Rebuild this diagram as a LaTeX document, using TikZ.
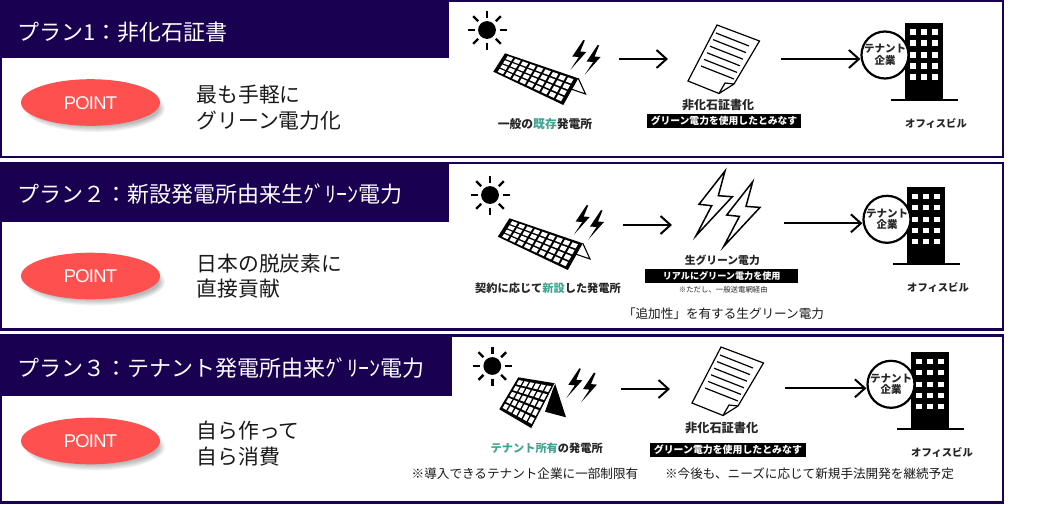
\documentclass[tikz,border=0pt]{standalone}
\usepackage{fontspec}
\setmainfont{Noto Sans CJK JP}
\newfontfamily\pointfont{Liberation Sans}
\usetikzlibrary{arrows.meta,calc,shapes.geometric}
\definecolor{navy}{HTML}{190050}
\definecolor{pointred}{HTML}{FF5050}
\definecolor{teal}{HTML}{3FA58F}
\newcommand{\fs}[1]{\fontsize{#1}{#1}\selectfont}
\newcommand{\grn}[1]{\textcolor{teal}{#1}}
\tikzset{
  frameBox/.style={draw=navy,line width=2.2pt,fill=white},
  headBox/.style={fill=navy},
  titleText/.style={anchor=west,inner sep=0pt,text=white,font=\fs{22}},
  pointOval/.style={ellipse,fill=pointred},
  bodyText/.style={anchor=west,inner sep=0pt,text=black!90,font=\fs{20.8}},
  iconLabel/.style={inner sep=0pt,text=black!85,font=\bfseries\fs{11.2}},
  barText/.style={inner sep=0pt,text=white,fill=black,font=\bfseries},
  noteText/.style={inner sep=0pt,text=black!90,font=\fs{12.6}},
  flowArrow/.style={line width=2pt,-{Straight Barb[length=10pt,width=18pt,line width=2pt]}},
  tenantCircle/.style={circle,draw=black,line width=2.2pt,fill=white,minimum size=47pt,inner sep=0pt,align=center,font=\bfseries\fs{10.5},text=black!85},
  sunRay/.style={line width=2.4pt},
}
\newcommand{\sunicon}[2]{%
  \begin{scope}[shift={(#1,#2)}]
    \fill[black] (0,0) circle[radius=8.9];
    \foreach \a in {0,45,...,315}{\draw[sunRay] (\a:12.5) -- (\a:19.5);}
  \end{scope}}
\newcommand{\boltblack}[2]{%
  \fill[black,shift={(#1,#2)}] (0,0) -- (-11,16.5) -- (-4.5,17) -- (-12.7,29.5) -- (3,12) -- (-3,11.5) -- (1.5,0.5) -- cycle;}
\newcommand{\boltoutline}[2]{%
  \draw[line width=1.5pt,fill=white,line join=miter,shift={(#1,#2)}] (0,0) -- (-26,33.3) -- (-13.3,34.7) -- (-29,64.7) -- (7.3,25.7) -- (-6.7,24.7) -- cycle;}
\newcommand{\solarcells}[6]{%
  \foreach \i in {1,...,#5}{\foreach \j in {1,...,#6}{%
    \pgfmathsetmacro\ua{.035+.93*(\i-1+.14)/#5}%
    \pgfmathsetmacro\ub{.035+.93*(\i-.14)/#5}%
    \pgfmathsetmacro\va{.05+.9*(\j-1+.14)/#6}%
    \pgfmathsetmacro\vb{.05+.9*(\j-.14)/#6}%
    \fill[white] ($($(#1)!\ua!(#2)$)!\va!($(#4)!\ua!(#3)$)$) -- ($($(#1)!\ub!(#2)$)!\va!($(#4)!\ub!(#3)$)$) -- ($($(#1)!\ub!(#2)$)!\vb!($(#4)!\ub!(#3)$)$) -- ($($(#1)!\ua!(#2)$)!\vb!($(#4)!\ua!(#3)$)$) -- cycle;
  }}}
\newcommand{\widepanel}[2]{%
  \begin{scope}[shift={(#1,#2)}]
    \coordinate (pA) at (505,53.3);
    \coordinate (pB) at (578.3,78.3);
    \coordinate (pC) at (563.3,105);
    \coordinate (pD) at (493.3,71.7);
    \draw[line width=1.1pt,fill=white] (pB) -- (585.5,94) -- (568,88);
    \fill[black] (pA) -- (pB) -- (pC) -- (pD) -- cycle;
    \solarcells{pA}{pB}{pC}{pD}{9}{4}
  \end{scope}}
\newcommand{\docicon}[2]{%
  \begin{scope}[shift={(#1,#2)}]
    \draw[line width=1.2pt,line join=miter] (0,0) -- (42.5,16) -- (17,59) -- (2,68.5) -- (-29,56) -- cycle;
    \draw[line width=1.2pt] (17,59) -- (8,58) -- (2,68.5);
    \foreach \k in {0,...,5}{\draw[line width=1.2pt] ($(-1,8)+\k*(-3,6.6)$) -- ($(32,21)+\k*(-3,6.6)$);}
  \end{scope}}
\newcommand{\officeicon}[4]{%
  \begin{scope}[shift={(#2,#3)}]
    \fill[black] (905,23) rectangle (943,100);
    \draw[line width=2pt] (891,100) -- (958,100);
    \foreach \wx in {913,924,935}{\foreach \wy in {32,43,55,66,77}{\fill[white] ($(\wx,\wy)+(-2.8,-2.8)$) rectangle ($(\wx,\wy)+(2.8,2.8)$);}}
    \node[tenantCircle] (#1circ) at (885,55) {テナント\\[1pt]企業};
    \coordinate (#1arrA) at (#4,59);
    \draw[flowArrow] (#1arrA) -- (#1arrA -| #1circ.west);
    \node[iconLabel,font=\bfseries\fs{10.3}] (#1bld) at (936,123) {オフィスビル};
  \end{scope}}
\newcommand{\pointoval}[3]{%
  \foreach \r in {0,1,...,5}{\fill[black,opacity=.05] (92+3,#2+6) ellipse[x radius=70-\r*1.2,y radius=23.5-\r*1.2];}
  \node[pointOval,minimum width=139pt,minimum height=46.6pt,inner sep=0pt] (#1) at (90.5,#2) {};
  \node[inner sep=0pt,text=white,font=\pointfont\fs{18.4}] (#1t) at (90.5,#2+.5) {\addfontfeature{LetterSpace=-4}#3};}
\begin{document}
\begin{tikzpicture}[x=1pt,y=-1pt]
\useasboundingbox (0,0) rectangle (1045,504);
\fill[white] (0,0) rectangle (1045,504);
\draw[frameBox] (1,1) rectangle (1003,157);
\draw[frameBox] (1,163) rectangle (1003,329.5);
\draw[frameBox] (1,335.5) rectangle (1003,502.5);
\fill[headBox] (0,0) rectangle (449,58);
\fill[headBox] (0,162) rectangle (449,222);
\fill[headBox] (0,335) rectangle (451.5,396);
\node[titleText] (t1) at (17,32) {プラン1：非化石証書};
\node[titleText] (t2) at (17,194) {プラン２：新設発電所由来生ｸﾞﾘｰﾝ電力};
\node[titleText] (t3) at (17,368) {プラン３：テナント発電所由来ｸﾞﾘｰﾝ電力};
\pointoval{p1}{102.5}{POINT}
\pointoval{p2}{276}{POINT}
\pointoval{p3}{441}{POINT}
\node[bodyText] (b1a) at (196.5,95) {最も手軽に};
\node[bodyText] (b1b) at (196.5,120.5) {グリーン電力化};
\node[bodyText] (b2a) at (196.5,264) {日本の脱炭素に};
\node[bodyText] (b2b) at (196.5,289) {直接貢献};
\node[bodyText] (b3a) at (196.5,431) {自ら作って};
\node[bodyText] (b3b) at (196.5,457) {自ら消費};
% plan 1
\sunicon{487}{30}
\widepanel{0}{0}
\boltblack{583.3}{40}\boltblack{597.6}{45}
\node[iconLabel,font=\bfseries\fs{11.8}] (l1) at (545,124) {一般の\grn{既存}発電所};
\coordinate (a1s) at (619,59);\coordinate (a1e) at (668,59);
\draw[flowArrow] (a1s) -- (a1e);
\docicon{717}{25}
\node[iconLabel,font=\bfseries\fs{12}] (d1) at (718,105) {非化石証書化};
\node[barText,minimum width=153.4pt,minimum height=13.7pt,font=\bfseries\fs{9.8}] (bar1) at (724,120.9) {グリーン電力を使用したとみなす};
\officeicon{o1}{0}{0}{781}
% plan 2
\sunicon{490}{195}
\widepanel{4.5}{165}
\boltblack{586.7}{205}\boltblack{601}{210}
\node[iconLabel] (l2) at (548,288) {契約に応じて\grn{新設}した発電所};
\coordinate (a2s) at (623,225);\coordinate (a2e) at (672,225);
\draw[flowArrow] (a2s) -- (a2e);
\boltoutline{725}{171}\boltoutline{752.7}{181.7}
\node[iconLabel,font=\bfseries\fs{10.8}] (d2) at (722.3,260) {生グリーン電力};
\node[barText,minimum width=153.3pt,minimum height=13.4pt,font=\bfseries\fs{9.1}] (bar2) at (721.7,276) {リアルにグリーン電力を使用};
\node[iconLabel,font=\fs{7.4}] (n2) at (723.3,290) {※ただし、一般送電網経由};
\node[noteText] (n2b) at (723.5,314) {「追加性」を有する生グリーン電力};
\officeicon{o2}{2}{164.3}{781.5}
% plan 3
\sunicon{492.3}{366}
\coordinate (qA) at (518.3,377.3);\coordinate (qB) at (555,383.3);
\coordinate (qC) at (531.7,428.3);\coordinate (qD) at (499.3,409.3);
\fill[black] (qB) -- (566,417.3) -- (545,411.7) -- cycle;
\fill[black] (qA) -- (qB) -- (qC) -- (qD) -- cycle;
\draw[white,line width=.7pt] (qB) -- (qC);
\solarcells{qA}{qB}{qC}{qD}{6}{5}
\boltblack{579.3}{368.3}\boltblack{594}{372.6}
\node[iconLabel] (l3) at (546.7,448.3) {\grn{テナント所有}の発電所};
\coordinate (a3s) at (621,389);\coordinate (a3e) at (670,389);
\draw[flowArrow] (a3s) -- (a3e);
\docicon{721}{347}
\node[iconLabel,font=\bfseries\fs{12.2}] (d3) at (721.7,427.7) {非化石証書化};
\node[barText,minimum width=155.7pt,minimum height=14pt,font=\bfseries\fs{9.9}] (bar3) at (727.9,449.5) {グリーン電力を使用したとみなす};
\node[noteText] (n3a) at (525,474) {※導入できるテナント企業に一部制限有};
\node[noteText] (n3b) at (809.5,474) {※今後も、ニーズに応じて新規手法開発を継続予定};
\officeicon{o3}{6}{329.3}{779}
\end{tikzpicture}
\end{document}
